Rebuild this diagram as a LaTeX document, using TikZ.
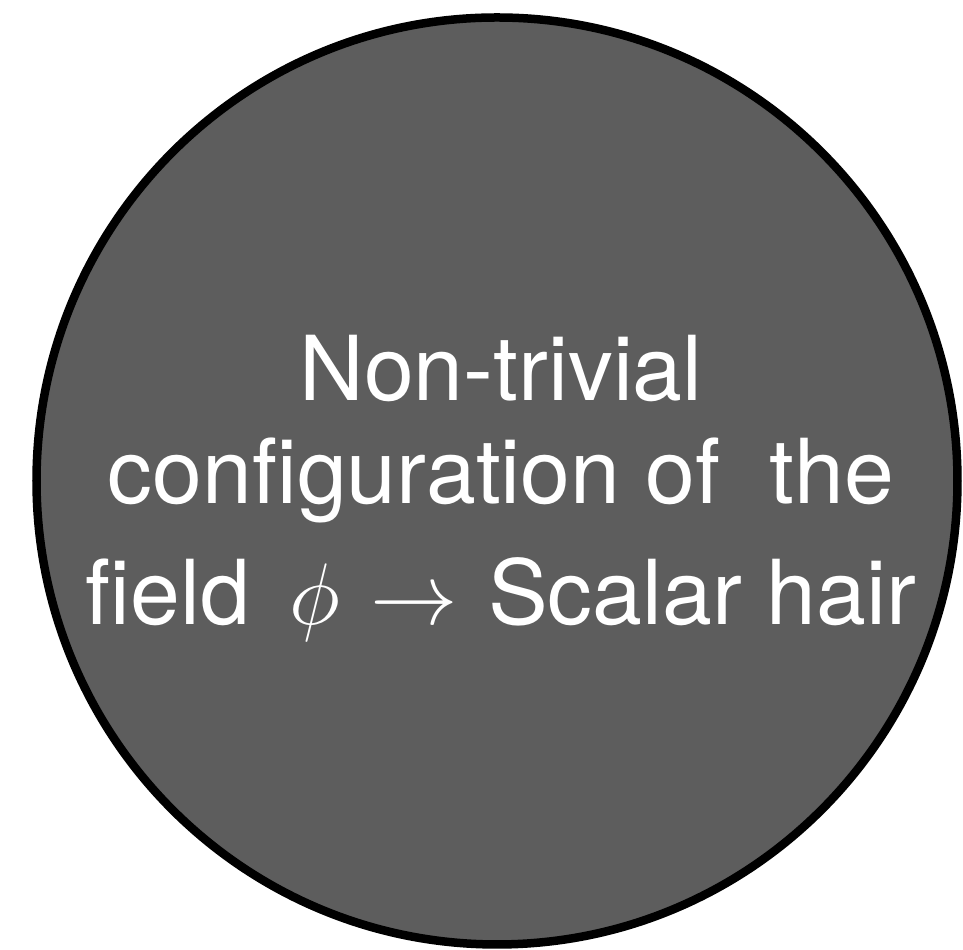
\documentclass[tikz,border=0pt]{standalone}
\usepackage{fontspec}
\setmainfont{TeX Gyre Heros}
\usepackage{amsmath,amssymb}
\usepackage{tikz}
\usetikzlibrary{shapes.geometric, positioning}
\usepackage{xcolor}
\definecolor{hairgray}{RGB}{93,93,93}
\newcommand{\bigmath}[1]{{\fontsize{29}{29}\selectfont$#1$}}

\begin{document}
\begin{tikzpicture}[
    hairdisk/.style={ellipse, draw=black, line width=0.085cm, fill=hairgray, inner sep=0pt},
    hairtext/.style={text=white, align=center, inner sep=0pt, font=\fontsize{25.5}{29.3}\selectfont}
  ]
  \useasboundingbox (0,0) rectangle (9.63,9.50);
  % Disk
  \node[hairdisk, minimum width=9.21cm, minimum height=9.27cm] (disk) at (4.97,4.69) {};
  % Label
  \node[hairtext, anchor=base] (label) at (5.01,3.25)
    {Non-trivial\\configuration of\ \ the\\[5.4pt]field\hspace{0.4cm}\bigmath{\phi}\hspace{0.3cm}\bigmath{\rightarrow}\hspace{0.3cm}Scalar hair};
\end{tikzpicture}
\end{document}
